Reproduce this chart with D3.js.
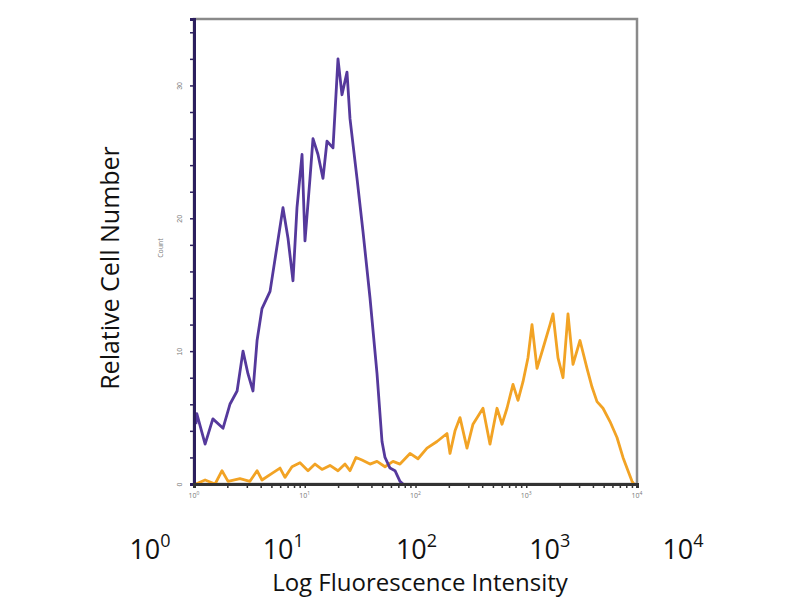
<!DOCTYPE html>
<html>
<head>
<meta charset="utf-8">
<script src="https://cdn.jsdelivr.net/npm/d3@7"></script>
<style>
  body { margin: 0; background: #fff; }
  svg { display: block; font-family: "Open Sans", Lato, sans-serif; }
</style>
</head>
<body>
<div id="chart"></div>
<script>
// Isotype control (purple) - fluorescence intensity and counts
var purpleX = [1.04, 1.06, 1.26, 1.48, 1.83, 2.11, 2.45, 2.77, 3.07, 3.41, 3.71, 4.11, 4.86, 6.36, 7.06, 7.83,
    8.51, 9.45, 10.05, 11.15, 11.87, 13.17, 14.61, 15.88, 17.99, 19.96, 21.69, 24.07, 25.62, 29.64, 33.57,
    38.84, 44.93, 49.84, 53.04, 58.86, 65.3, 72.44, 77.11];
var purpleY = [4.5, 5.3, 3.0, 4.9, 4.2, 6.0, 7.0, 10.0, 8.3, 7.0, 10.8, 13.2, 14.5, 20.8, 18.5, 15.3,
    20.8, 24.8, 18.3, 23.0, 26.0, 24.8, 23.0, 25.8, 25.3, 32.0, 29.3, 31.0, 27.5, 23.0, 19.0,
    14.0, 8.3, 3.2, 2.0, 1.2, 1.0, 0.2, 0];

// Stained sample (orange)
var orangeX = [1.04, 1.26, 1.55, 1.79, 2.03, 2.6, 3.2, 3.71, 4.11, 5.06, 5.98, 6.63, 7.67, 9.06, 10.7,
    12.38, 14.31, 16.9, 19.96, 23.09, 25.62, 29.03, 32.88, 38.84, 44.93, 53.04, 62.64, 72.44, 89.2, 105.3,
    127, 156.4, 192.5, 204.9, 227.4, 252.3, 291.7, 330.5, 406.9, 470.6, 544.4, 603.9, 670.2, 759.3, 842.3,
    934.8, 1037, 1127, 1251, 1416, 1639, 1744, 1935, 2147, 2382, 2643, 3057, 3536, 3924, 4355, 4932,
    5705, 6598, 7473, 8293, 9015, 9396];
var orangeY = [0, 0.3, 0, 1.0, 0.2, 0.4, 0.2, 1.0, 0.3, 0.8, 1.2, 0.5, 1.3, 1.6, 1.0,
    1.5, 1.1, 1.4, 1.0, 1.5, 1.0, 2.0, 1.8, 1.5, 1.7, 1.3, 1.7, 1.5, 2.3, 1.9,
    2.7, 3.2, 3.8, 2.3, 4.0, 5.0, 2.7, 4.5, 5.7, 3.0, 5.7, 4.5, 5.7, 7.5, 6.3,
    7.7, 9.5, 12.0, 8.7, 10.2, 12.0, 12.8, 9.5, 8.0, 12.8, 9.0, 10.8, 8.7, 7.3, 6.2, 5.7,
    4.7, 3.5, 2.0, 1.0, 0.2, 0];

var decades = [1, 10, 100, 1000, 10000];
var countTicks = [0, 10, 20, 30];

var width = 800, height = 600;

var svg = d3.select("#chart").append("svg")
    .attr("width", width)
    .attr("height", height);

// plot scales
var x = d3.scaleLog().domain([1, 10000]).range([194, 637]);
var y = d3.scaleLinear().domain([0, 35]).range([484, 19]);

// separate scale for the big annotation labels underneath
var xBig = d3.scaleLog().domain([1, 10000]).range([150, 683]);

// frame (top and right sides in grey)
svg.append("rect")
    .attr("x", x.range()[0])
    .attr("y", y.range()[1])
    .attr("width", x.range()[1] - x.range()[0])
    .attr("height", y.range()[0] - y.range()[1])
    .attr("fill", "none")
    .attr("stroke", "#8a8a8a")
    .attr("stroke-width", 2.5);

var line = d3.line()
    .x(function(d) { return x(d[0]); })
    .y(function(d) { return y(d[1]); });

svg.append("path")
    .datum(orangeX.map(function(v, i) { return [v, orangeY[i]]; }))
    .attr("d", line)
    .attr("fill", "none")
    .attr("stroke", "#f2a324")
    .attr("stroke-width", 2.8)
    .attr("stroke-linejoin", "round");

svg.append("path")
    .datum(purpleX.map(function(v, i) { return [v, purpleY[i]]; }))
    .attr("d", line)
    .attr("fill", "none")
    .attr("stroke", "#55399c")
    .attr("stroke-width", 2.8)
    .attr("stroke-linejoin", "round");

// left axis, ticks every 2 counts, labels every 10
var yAxis = d3.axisLeft(y)
    .tickValues(d3.range(0, 36, 2))
    .tickSize(4)
    .tickFormat(function(d) { return countTicks.indexOf(d) >= 0 ? d : ""; });

var gy = svg.append("g")
    .attr("transform", "translate(" + x.range()[0] + ",0)")
    .call(yAxis);
gy.select(".domain").attr("stroke", "#2c1f5e").attr("stroke-width", 3);
gy.selectAll(".tick line").attr("stroke", "#2c1f5e").attr("stroke-width", 1.5);
gy.selectAll(".tick text")
    .attr("transform", "rotate(-90)")
    .attr("x", 0)
    .attr("y", -12)
    .attr("dy", 0)
    .attr("text-anchor", "middle")
    .style("font-size", "7px")
    .attr("fill", "#777");

// bottom axis, log minor ticks
var logTicks = [];
decades.forEach(function(d) {
    for (var k = 1; k < 10; k++) {
        if (d * k <= 10000) logTicks.push(d * k);
    }
});

var xAxis = d3.axisBottom(x)
    .tickValues(logTicks)
    .tickSize(4)
    .tickFormat("");

var gx = svg.append("g")
    .attr("transform", "translate(0," + y.range()[0] + ")")
    .call(xAxis);
gx.select(".domain").attr("stroke", "#333").attr("stroke-width", 3);
gx.selectAll(".tick line").attr("stroke", "#333").attr("stroke-width", 1.5);

// tiny decade labels on the plot axis
var small = svg.append("g")
    .style("font-size", "7px")
    .attr("fill", "#777");
decades.forEach(function(d, i) {
    var t = small.append("text")
        .attr("x", x(d))
        .attr("y", y.range()[0] + 14)
        .attr("text-anchor", "middle");
    t.append("tspan").text("10");
    t.append("tspan").attr("dy", -3).style("font-size", "5px").text(i);
});

svg.append("text")
    .attr("transform", "translate(163,248) rotate(-90)")
    .attr("text-anchor", "middle")
    .style("font-size", "7px")
    .attr("fill", "#777")
    .text("Count");

// big labels
var big = svg.append("g")
    .style("font-size", "27px")
    .attr("fill", "#111");
decades.forEach(function(d, i) {
    var t = big.append("text")
        .attr("x", xBig(d))
        .attr("y", 559)
        .attr("text-anchor", "middle");
    t.append("tspan").text("10");
    t.append("tspan").attr("dy", -12).style("font-size", "18px").text(i);
});

svg.append("text")
    .attr("x", 420)
    .attr("y", 591)
    .attr("text-anchor", "middle")
    .style("font-size", "24px")
    .attr("fill", "#111")
    .text("Log Fluorescence Intensity");

svg.append("text")
    .attr("transform", "translate(119,268) rotate(-90)")
    .attr("text-anchor", "middle")
    .style("font-size", "25px")
    .attr("fill", "#111")
    .text("Relative Cell Number");
</script>
</body>
</html>
